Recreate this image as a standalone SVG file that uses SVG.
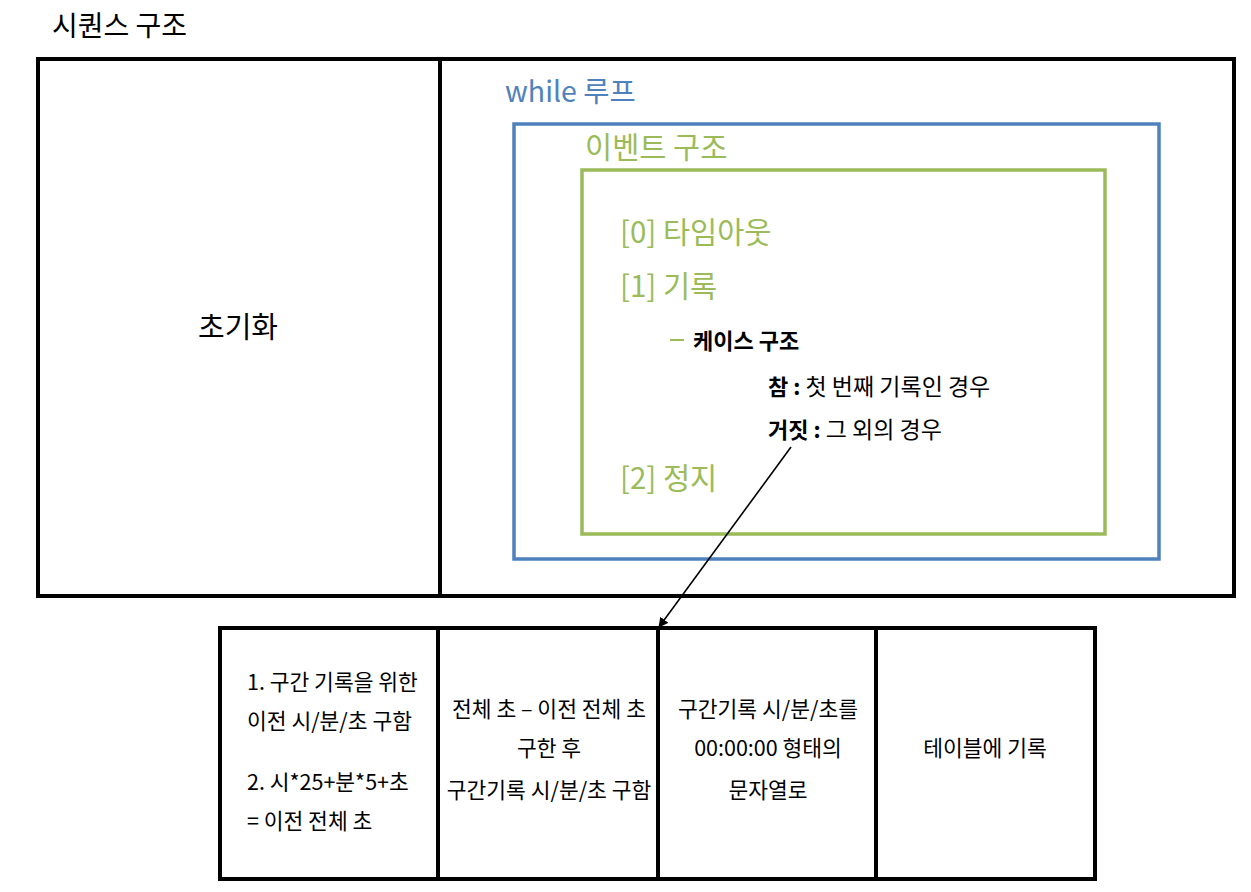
<svg xmlns="http://www.w3.org/2000/svg" width="1251" height="892" viewBox="0 0 1251 892">
<style>
text{font-family:"Noto Sans CJK KR","Noto Sans",sans-serif;}
.blk{fill:none;stroke:#000;stroke-width:4}
.t{font-size:21.5px;fill:#000}
.s{font-size:22px;fill:#000}
.r{font-size:23px;fill:#000}
.g{fill:#9BBB59;font-size:29.5px}
.c{text-anchor:middle}
</style>
<defs>
<marker id="ah" markerWidth="10" markerHeight="10" refX="9" refY="5" orient="auto" markerUnits="userSpaceOnUse" viewBox="0 0 10 10">
<path d="M0,0 L10,5 L0,10 z" fill="#000"/>
</marker>
</defs>
<rect width="1251" height="892" fill="#fff"/>
<text x="52" y="36" font-size="28" fill="#000">시퀀스 구조</text>
<g id="sequence">
<rect class="blk" x="38" y="59" width="1196" height="537"/>
<line class="blk" x1="440" y1="59" x2="440" y2="596"/>
</g>
<g id="init">
<text x="238" y="338" font-size="29" class="c">초기화</text>
</g>
<g id="while">
<text x="505" y="102" font-size="28.5" fill="#4F81BD">while 루프</text>
<rect x="514" y="124" width="645" height="435" fill="none" stroke="#4F81BD" stroke-width="3.5"/>
</g>
<g id="event">
<text x="585" y="158" class="g">이벤트 구조</text>
<rect x="582" y="170" width="523" height="364" fill="none" stroke="#9BBB59" stroke-width="3.5"/>
<text x="620" y="243" class="g">[0] 타임아웃</text>
<text x="620" y="297" class="g">[1] 기록</text>
<text x="620" y="489" class="g">[2] 정지</text>
<line x1="670" y1="340" x2="684" y2="340" stroke="#9BBB59" stroke-width="2"/>
<text x="693" y="349" class="s" font-weight="bold">케이스 구조</text>
<text x="768" y="395" class="s"><tspan font-weight="bold">참 :</tspan><tspan class="r"> 첫 번째 기록인 경우</tspan></text>
<text x="768" y="438" class="s"><tspan font-weight="bold">거짓 :</tspan><tspan class="r"> 그 외의 경우</tspan></text>
</g>
<g id="step1">
<rect class="blk" x="220" y="628" width="218" height="251"/>
<text x="247" y="690" class="t">1. 구간 기록을 위한</text>
<text x="247" y="729" class="t">이전 시/분/초 구함</text>
<text x="247" y="790" class="t">2. 시*25+분*5+초</text>
<text x="247" y="829" class="t">= 이전 전체 초</text>
</g>
<g id="step2">
<rect class="blk" x="438" y="628" width="220" height="251"/>
<text x="549" y="717" class="t c">전체 초 – 이전 전체 초</text>
<text x="549" y="756" class="t c">구한 후</text>
<text x="549" y="798" class="t c">구간기록 시/분/초 구함</text>
</g>
<g id="step3">
<rect class="blk" x="658" y="628" width="218" height="251"/>
<text x="768" y="717" class="t c">구간기록 시/분/초를</text>
<text x="768" y="756" class="t c">00:00:00 형태의</text>
<text x="768" y="798" class="t c">문자열로</text>
</g>
<g id="step4">
<rect class="blk" x="876" y="628" width="219" height="251"/>
<text x="985" y="756" class="t c">테이블에 기록</text>
</g>
<g id="connectors">
<line x1="791" y1="447" x2="659" y2="627" stroke="#000" stroke-width="1.6" marker-end="url(#ah)"/>
</g>
</svg>
